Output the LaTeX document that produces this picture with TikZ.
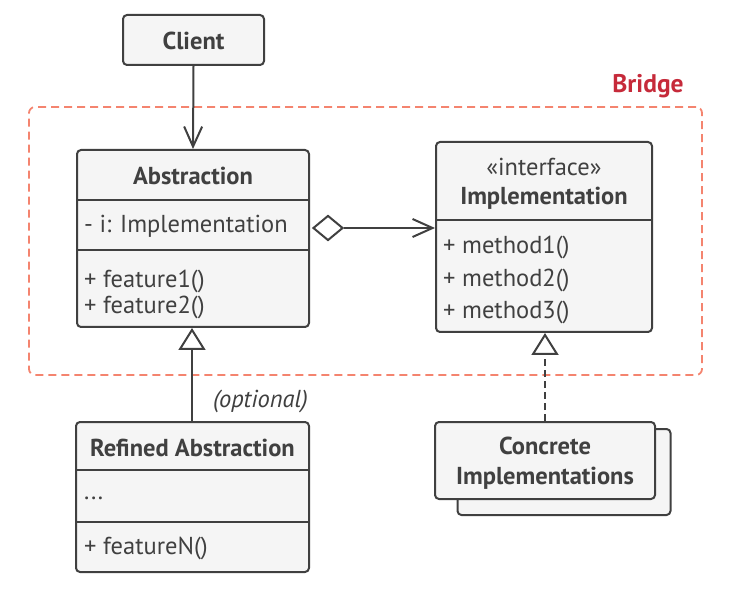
\documentclass[tikz,border=0pt]{standalone}
\usepackage{fontspec}
\setmainfont{PT Sans}
\usetikzlibrary{arrows.meta,shapes.geometric}
\definecolor{ink}{HTML}{404040}
\definecolor{boxfill}{HTML}{F5F5F5}
\definecolor{bridgeline}{HTML}{F4846F}
\definecolor{bridgetext}{HTML}{C62A3A}
\begin{document}
\begin{tikzpicture}[x=1pt,y=-1pt,
  umlbox/.style={draw=ink, line width=2pt, fill=boxfill, rounded corners=4pt, rectangle, inner sep=0pt},
  divider/.style={draw=ink, line width=2pt},
  titletext/.style={font=\bfseries\fontsize{24.5}{29}\selectfont, text=ink, inner sep=0pt},
  plaintext/.style={font=\fontsize{24.5}{29}\selectfont, text=ink, inner sep=0pt},
  member/.style={plaintext, anchor=west},
  conn/.style={draw=ink, line width=2pt},
  openvee/.style={-{Straight Barb[length=20pt,width=18pt]}},
  opentri/.style={-{Triangle[open,fill=white,length=22pt,width=27pt]}},
  bridgebox/.style={draw=bridgeline, line width=1.8pt, dash pattern=on 8pt off 5pt, rounded corners=6pt},
]
\useasboundingbox (0,0) rectangle (744,609);

% Bridge frame
\node[bridgebox, rectangle, inner sep=0pt, minimum width=673pt, minimum height=268pt] (bridge) at (365.5,241) {};
\node[font=\bfseries\fontsize{25.5}{30}\selectfont, text=bridgetext, inner sep=0pt] (bridgelabel) at (648,86) {Bridge};

% Client
\node[umlbox, minimum width=141pt, minimum height=50pt] (client) at (193.5,40) {};
\node[titletext] (clienttxt) at (193.5,41) {Client};

% Abstraction
\node[umlbox, minimum width=232pt, minimum height=177pt] (abs) at (193,238.5) {};
\draw[divider] (abs.west |- 0,200) -- (abs.east |- 0,200);
\draw[divider] (abs.west |- 0,250) -- (abs.east |- 0,250);
\node[titletext] (abstitle) at (193,176) {Abstraction};
\node[member] (absattr) at (84,226) {- i: Implementation};
\node[member] (absf1) at (84,281) {+ feature1()};
\node[member] (absf2) at (84,307) {+ feature2()};

% Implementation
\node[umlbox, minimum width=216pt, minimum height=190pt] (impl) at (544,237) {};
\draw[divider] (impl.west |- 0,220) -- (impl.east |- 0,220);
\node[plaintext] (implster) at (544,167) {«interface»};
\node[titletext] (impltitle) at (544,198) {Implementation};
\node[member] (implm1) at (443,247) {+ method1()};
\node[member] (implm2) at (443,280) {+ method2()};
\node[member] (implm3) at (443,312) {+ method3()};

% Refined Abstraction
\node[umlbox, minimum width=233pt, minimum height=150pt] (refined) at (192.5,497) {};
\draw[divider] (refined.west |- 0,470) -- (refined.east |- 0,470);
\draw[divider] (refined.west |- 0,522) -- (refined.east |- 0,522);
\node[titletext] (reftitle) at (192.5,448) {Refined Abstraction};
\node[member] (refdots) at (84,498) {...};
\node[member] (reffn) at (84,548) {+ featureN()};

% Concrete Implementations (stacked)
\node[umlbox, minimum width=213pt, minimum height=86pt] (concback) at (564,472) {};
\node[umlbox, minimum width=220pt, minimum height=77pt] (conc) at (545,460.5) {};
\node[titletext, align=center, font=\bfseries\fontsize{24.5}{30}\selectfont] (conctxt) at (545,463) {Concrete\\Implementations};

% Connectors
\draw[conn, openvee] (client.south) -- (abs.north);
\coordinate (aggend) at (impl.west |- 0,228);
\node[diamond, draw=ink, line width=2pt, fill=white, inner sep=0pt, minimum width=30pt, minimum height=25pt, anchor=west] (dia) at (312,228) {};
\draw[conn, openvee] (dia.east) -- (aggend);
\draw[conn, opentri] (refined.north -| 192,0) -- (abs.south -| 192,0);
\node[font=\itshape\fontsize{24.5}{29}\selectfont, text=ink, inner sep=0pt, anchor=east] (optional) at (308,401) {(optional)};
\draw[conn, opentri, dash pattern=on 7pt off 4pt] (conc.north) -- (impl.south -| conc.north);
\end{tikzpicture}
\end{document}
